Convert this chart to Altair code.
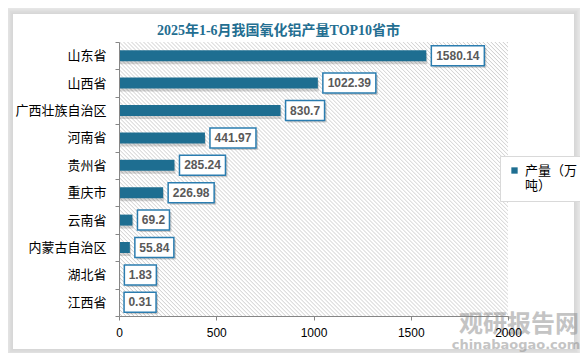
import altair as alt
import pandas as pd

# ---- data ----
provinces = ["山东省", "山西省", "广西壮族自治区", "河南省", "贵州省",
             "重庆市", "云南省", "内蒙古自治区", "湖北省", "江西省"]
values = [1580.14, 1022.39, 830.7, 441.97, 285.24, 226.98, 69.2, 55.84, 1.83, 0.31]
labels = ["1580.14", "1022.39", "830.7", "441.97", "285.24", "226.98",
          "69.2", "55.84", "1.83", "0.31"]
x_ticks = [0, 500, 1000, 1500, 2000]
series_name = "产量（万吨）"
title_text = "2025年1-6月我国氧化铝产量TOP10省市"

# ---- style / geometry ----
W, H = 389, 274
XMAX = 2000
U = XMAX / W                     # data units per pixel
BAR_COLOR = "#1e6e91"
BOX_STROKE = "#2b7db0"
CJK = "Noto Sans CJK SC"

df = pd.DataFrame({"province": provinces, "value": values,
                   "label": labels, "series": series_name})

xscale = alt.Scale(domain=[0, XMAX], nice=False, zero=True)
xaxis = alt.Axis(values=x_ticks, format="d", title=None, grid=False,
                 domainColor="#868686", tickColor="#868686", tickSize=4,
                 labelFontSize=12, labelFont="Liberation Sans",
                 labelColor="#000000", labelPadding=7, zindex=1, labelFlush=False)
yscale = alt.Scale(paddingInner=0, paddingOuter=0)
yaxis = alt.Axis(title=None, tickBand="extent", tickSize=4, labelPadding=9,
                 labelFontSize=13, labelFont=CJK, labelColor="#000000",
                 domainColor="#868686", tickColor="#868686", zindex=1)
Y = alt.Y("province:N", sort=provinces, scale=yscale, axis=yaxis)

deco = alt.Data(values=[{}])

# card shadow + white card
card = [-106, 455, -28, 307]
layers = []
for k in range(8, 0, -1):
    e = 1.6 * k
    layers.append(
        alt.Chart(deco).mark_rect(fill="#000000", opacity=0.02).encode(
            x=alt.value(card[0] - e), x2=alt.value(card[1] + e),
            y=alt.value(card[2] - e), y2=alt.value(card[3] + e))
    )
layers.append(
    alt.Chart(deco).mark_rect(fill="#ffffff").encode(
        x=alt.value(card[0]), x2=alt.value(card[1]),
        y=alt.value(card[2]), y2=alt.value(card[3]))
)

# hatched plot background via striped linear gradient
N = 166
stops = []
for i in range(N):
    stops.append({"offset": i / N, "color": "#ffffff"})
    stops.append({"offset": (i + 0.45) / N, "color": "#ffffff"})
    stops.append({"offset": (i + 0.75) / N, "color": "#d2d2d2"})
stops.append({"offset": 1.0, "color": "#ffffff"})
hatch = {"gradient": "linear", "stops": stops,
         "x1": 0, "y1": 1, "x2": 1.1391, "y2": 0.1976}
layers.append(
    alt.Chart(deco).mark_rect(fill=hatch).encode(
        x=alt.value(0), x2=alt.value("width"),
        y=alt.value(0), y2=alt.value("height"))
)

base = alt.Chart(df).transform_calculate(
    bw="length(datum.label) * 7 + 4"
).transform_calculate(
    bx="datum.value + 5 * %f" % U,
    bx2="datum.value + (5 + datum.bw) * %f" % U,
    tx="datum.value + (5 + datum.bw / 2) * %f" % U,
)

bar_shadow = base.mark_bar(size=11, color="#000000", opacity=0.16,
                           xOffset=1, yOffset=3).encode(
    x=alt.X("value:Q", scale=xscale, axis=xaxis), y=Y)

bars = base.mark_bar(size=11).encode(
    x=alt.X("value:Q", scale=xscale, axis=xaxis), y=Y,
    color=alt.Color("series:N", scale=alt.Scale(range=[BAR_COLOR]),
                    legend=alt.Legend(title=None, orient="none", legendX=381,
                                      legendY=114, padding=8,
                                      strokeColor="#d9d9d9", fillColor="#ffffff",
                                      symbolType="square", symbolSize=40,
                                      labelFontSize=13, labelFont=CJK,
                                      labelColor="#000000",
                                      labelExpr="['产量（万', '吨）']")))

box_shadow = base.mark_bar(size=20, color="#000000", opacity=0.18,
                           xOffset=2, yOffset=2, x2Offset=2).encode(
    x=alt.X("bx:Q", scale=xscale, axis=xaxis), x2="bx2:Q", y=Y)

boxes = base.mark_bar(size=20, fill="#ffffff", stroke=BOX_STROKE,
                      strokeWidth=1.5).encode(
    x=alt.X("bx:Q", scale=xscale, axis=xaxis), x2="bx2:Q", y=Y)

texts = base.mark_text(font="Liberation Sans", fontWeight="bold", fontSize=12,
                       color="#595959", align="center", baseline="middle").encode(
    x=alt.X("tx:Q", scale=xscale, axis=xaxis), y=Y, text="label:N")

title = alt.Chart(deco).mark_text(text=title_text, font="Liberation Serif, " + CJK,
                                  fontWeight="bold", fontSize=14, color="#236e91",
                                  align="center", baseline="middle").encode(
    x=alt.value(W / 2 - 35), y=alt.value(-11))

wm1 = alt.Chart(deco).mark_text(text="观研报告网", font=CJK, fontWeight="bold",
                                fontSize=24, color="#8a8a8a", opacity=0.5,
                                align="center", baseline="middle").encode(
    x=alt.value(400), y=alt.value(283))
wm2 = alt.Chart(deco).mark_text(text="chinabaogao.com", font="DejaVu Sans",
                                fontWeight="bold", fontSize=13, color="#8a8a8a",
                                opacity=0.5, align="center",
                                baseline="middle").encode(
    x=alt.value(397), y=alt.value(303))

layers += [bar_shadow, bars, box_shadow, boxes, texts, title, wm1, wm2]

chart = alt.layer(*layers).properties(
    width=W, height=H,
    autosize=alt.AutoSizeParams(type="none"),
    padding={"left": 111, "top": 34, "right": 72, "bottom": 37},
    background="#ffffff",
).configure_view(stroke=None)

chart.save("out.html", embed_options={"renderer": "svg", "actions": False})
